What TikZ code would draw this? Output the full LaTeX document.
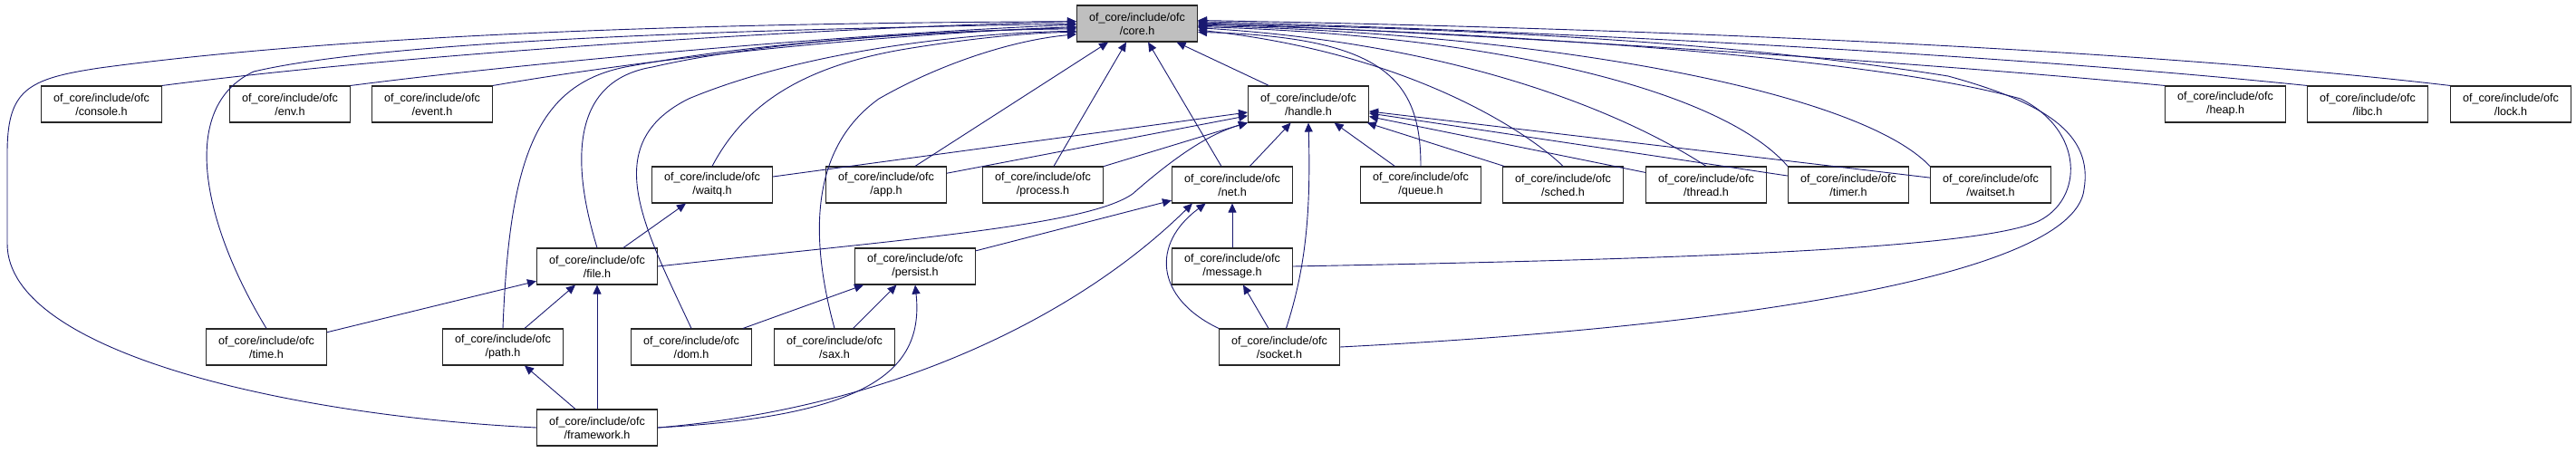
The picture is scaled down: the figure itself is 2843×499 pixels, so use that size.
\documentclass[tikz,border=0pt]{standalone}
\usepackage{fontspec}
\setmainfont{Liberation Sans}
\usetikzlibrary{positioning, arrows.meta, calc}
\definecolor{edgeblue}{HTML}{191970}
\definecolor{corefill}{HTML}{BFBFBF}
\newcommand{\ofc}[1]{of\_core/include/ofc\\/#1}

\tikzset{
  hfile/.style={draw=black!85, line width=1.1pt, fill=white, minimum width=133pt,
    minimum height=40pt, inner sep=0pt, align=center, font=\fontsize{12.6}{15}\selectfont},
  hcore/.style={hfile, fill=corefill},
  incl/.style={edgeblue, line width=0.9pt, -{Triangle[length=10pt, width=9pt]}}
}

\begin{document}
\begin{tikzpicture}[x=1pt, y=1pt]
    \useasboundingbox (0,0) rectangle (2843,499);
    % headers
    \node[hcore] (core) at (1255,473) {\ofc{core.h}};
    \node[hfile] (console) at (112,384) {\ofc{console.h}};
    \node[hfile] (env) at (320,384) {\ofc{env.h}};
    \node[hfile] (event) at (477,384) {\ofc{event.h}};
    \node[hfile] (handle) at (1444,384) {\ofc{handle.h}};
    \node[hfile] (heap) at (2456,384) {\ofc{heap.h}};
    \node[hfile] (libc) at (2613,384) {\ofc{libc.h}};
    \node[hfile] (lock) at (2771,384) {\ofc{lock.h}};
    \node[hfile] (waitq) at (786,295) {\ofc{waitq.h}};
    \node[hfile] (app) at (978,295) {\ofc{app.h}};
    \node[hfile] (process) at (1151,295) {\ofc{process.h}};
    \node[hfile] (net) at (1360,295) {\ofc{net.h}};
    \node[hfile] (queue) at (1568,295) {\ofc{queue.h}};
    \node[hfile] (sched) at (1725,295) {\ofc{sched.h}};
    \node[hfile] (thread) at (1883,295) {\ofc{thread.h}};
    \node[hfile] (timer) at (2040,295) {\ofc{timer.h}};
    \node[hfile] (waitset) at (2197,295) {\ofc{waitset.h}};
    \node[hfile] (file) at (659,205) {\ofc{file.h}};
    \node[hfile] (persist) at (1010,205) {\ofc{persist.h}};
    \node[hfile] (message) at (1360,205) {\ofc{message.h}};
    \node[hfile] (time) at (294,116) {\ofc{time.h}};
    \node[hfile] (path) at (555,116) {\ofc{path.h}};
    \node[hfile] (dom) at (763,116) {\ofc{dom.h}};
    \node[hfile] (sax) at (921,116) {\ofc{sax.h}};
    \node[hfile] (socket) at (1412,116) {\ofc{socket.h}};
    \node[hfile] (framework) at (659,27) {\ofc{framework.h}};

    % into core.h, left side
    \draw[incl] (framework.west) .. controls (320,40) and (8,110) .. (8,230) -- (8,330)
      .. controls (8,400) and (30,412) .. (110,424) .. controls (450,470) and (950,474) .. (core.178);
    \draw[incl] (console.north east) .. controls (450,440) and (900,468) .. (core.178);
    \draw[incl] (time.north) .. controls (225,250) and (195,380) .. (280,420)
      .. controls (450,460) and (950,468) .. (core.180);
    \draw[incl] (env.north east) .. controls (600,432) and (950,462) .. (core.181);
    \draw[incl] (event.north east) .. controls (750,440) and (1000,462) .. (core.183);
    \draw[incl] (path.north) .. controls (562,320) and (590,405) .. (690,425)
      .. controls (850,455) and (1050,465) .. (core.184);
    \draw[incl] (file.north) .. controls (630,320) and (630,410) .. (720,425)
      .. controls (850,455) and (1050,466) .. (core.185);
    \draw[incl] (dom.north) .. controls (710,250) and (660,340) .. (760,390)
      .. controls (880,440) and (1050,462) .. (core.187);
    \draw[incl] (waitq.north) .. controls (820,380) and (880,425) .. (1000,445)
      .. controls (1080,458) and (1140,463) .. (core.188);
    \draw[incl] (sax.north) .. controls (890,250) and (900,340) .. (970,390)
      .. controls (1040,430) and (1120,455) .. (core.190);
    % into core.h, from below
    \draw[incl] (app) -- (core);
    \draw[incl] (process) -- (core);
    \draw[incl] (net) -- (core);
    \draw[incl] (handle) -- (core);
    % into core.h, right side
    \draw[incl] (queue.north) .. controls (1568,410) and (1530,458) .. (core.352);
    \draw[incl] (sched.north) .. controls (1690,350) and (1560,440) .. (core.354);
    \draw[incl] (thread.north) .. controls (1800,370) and (1620,450) .. (core.356);
    \draw[incl] (timer.north west) .. controls (1900,400) and (1650,460) .. (core.357);
    \draw[incl] (waitset.north west) .. controls (2050,400) and (1700,462) .. (core.358);
    \draw[incl] (heap.north west) .. controls (2100,432) and (1650,460) .. (core.1);
    \draw[incl] (libc.north west) .. controls (2200,440) and (1700,465) .. (core.2);
    \draw[incl] (lock.north west) .. controls (2350,446) and (1800,468) .. (core.3);
    \draw[incl] (message.east) .. controls (1800,212) and (2180,222) .. (2250,255)
      .. controls (2300,280) and (2300,355) .. (2230,390) .. controls (2050,440) and (1600,465) .. (core.359);
    \draw[incl] (socket.east) .. controls (1950,140) and (2290,200) .. (2300,290)
      .. controls (2310,350) and (2260,385) .. (2150,415) .. controls (1900,455) and (1600,468) .. (core.0);

    % into handle.h
    \draw[incl] (waitq) -- (handle);
    \draw[incl] (app) -- (handle);
    \draw[incl] (process) -- (handle);
    \draw[incl] (file.east) .. controls (1000,235) and (1200,250) .. (1250,285)
      .. controls (1290,320) and (1330,350) .. (handle.south west);
    \draw[incl] (net) -- (handle);
    \draw[incl] (socket.70) .. controls (1440,200) and (1447,260) .. (handle.south);
    \draw[incl] (queue) -- (handle);
    \draw[incl] (sched) -- (handle);
    \draw[incl] (thread) -- (handle);
    \draw[incl] (timer) -- (handle);
    \draw[incl] (waitset) -- (handle);

    % lower levels
    \draw[incl] (file) -- (waitq);
    \draw[incl] (persist) -- (net);
    \draw[incl] (framework.east) .. controls (1000,50) and (1200,160) .. (net.205);
    \draw[incl] (socket.north west) .. controls (1275,170) and (1270,230) .. (net.215);
    \draw[incl] (message) -- (net);
    \draw[incl] (dom) -- (persist);
    \draw[incl] (sax) -- (persist);
    \draw[incl] (framework.east) .. controls (960,40) and (1020,90) .. (persist.south);
    \draw[incl] (time) -- (file);
    \draw[incl] (path) -- (file);
    \draw[incl] (framework) -- (file);
    \draw[incl] (framework) -- (path);
    \draw[incl] (socket) -- (message);
\end{tikzpicture}
\end{document}
